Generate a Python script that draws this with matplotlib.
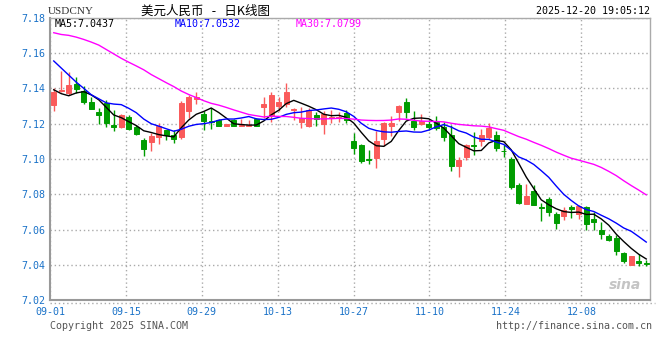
import numpy as np
import pandas as pd
import matplotlib
matplotlib.use('Agg')
import matplotlib.pyplot as plt

# daily candles 2025-09-01 .. 2025-12-19 (USD/CNY)
opens = [7.1304, 7.1383, 7.1374, 7.1425, 7.1383, 7.1323, 7.1266, 7.1317, 7.1192, 7.1181,
         7.1236, 7.1181, 7.1107, 7.1096, 7.1125, 7.1163, 7.1135, 7.1127, 7.1273, 7.1337,
         7.1254, 7.1215, 7.1221, 7.1188, 7.1221, 7.1188, 7.1188, 7.1225, 7.1296, 7.1245,
         7.1302, 7.1309, 7.1277, 7.1211, 7.1189, 7.1249, 7.1198, 7.1230, 7.1234, 7.1258,
         7.1103, 7.1078, 7.1001, 7.1006, 7.1115, 7.1188, 7.1265, 7.1325, 7.1213, 7.1200,
         7.1200, 7.1207, 7.1179, 7.1137, 7.0960, 7.1011, 7.1079, 7.1102, 7.1125, 7.1134,
         7.1047, 7.1002, 7.0851, 7.0747, 7.0817, 7.0726, 7.0775, 7.0688, 7.0678, 7.0730,
         7.0688, 7.0726, 7.0659, 7.0596, 7.0562, 7.0554, 7.0467, 7.0402, 7.0425, 7.0411]
highs = [7.1402, 7.1500, 7.1492, 7.1462, 7.1411, 7.1351, 7.1289, 7.1336, 7.1277, 7.1255,
         7.1247, 7.1194, 7.1119, 7.1147, 7.1202, 7.1167, 7.1162, 7.1327, 7.1362, 7.1381,
         7.1269, 7.1288, 7.1227, 7.1200, 7.1225, 7.1227, 7.1221, 7.1230, 7.1353, 7.1381,
         7.1353, 7.1428, 7.1291, 7.1292, 7.1287, 7.1268, 7.1272, 7.1277, 7.1268, 7.1277,
         7.1147, 7.1085, 7.1053, 7.1156, 7.1207, 7.1241, 7.1306, 7.1344, 7.1269, 7.1254,
         7.1222, 7.1241, 7.1207, 7.1194, 7.1011, 7.1087, 7.1153, 7.1168, 7.1206, 7.1157,
         7.1081, 7.1011, 7.0866, 7.0857, 7.0855, 7.0753, 7.0785, 7.0701, 7.0726, 7.0739,
         7.0739, 7.0733, 7.0701, 7.0644, 7.0577, 7.0568, 7.0472, 7.0453, 7.0463, 7.0429]
lows = [7.1270, 7.1381, 7.1364, 7.1374, 7.1311, 7.1281, 7.1198, 7.1183, 7.1160, 7.1175,
        7.1166, 7.1134, 7.1019, 7.1047, 7.1087, 7.1106, 7.1088, 7.1115, 7.1231, 7.1313,
        7.1163, 7.1169, 7.1185, 7.1186, 7.1185, 7.1187, 7.1187, 7.1187, 7.1230, 7.1211,
        7.1274, 7.1296, 7.1221, 7.1177, 7.1183, 7.1189, 7.1142, 7.1202, 7.1211, 7.1202,
        7.1031, 7.0978, 7.0973, 7.0950, 7.1072, 7.1128, 7.1213, 7.1231, 7.1166, 7.1190,
        7.1166, 7.1166, 7.1100, 7.0931, 7.0898, 7.0992, 7.1021, 7.1074, 7.1115, 7.1045,
        7.1011, 7.0832, 7.0747, 7.0745, 7.0738, 7.0649, 7.0677, 7.0602, 7.0653, 7.0667,
        7.0663, 7.0596, 7.0596, 7.0545, 7.0535, 7.0459, 7.0409, 7.0400, 7.0396, 7.0396]
closes = [7.1379, 7.1389, 7.1419, 7.1398, 7.1323, 7.1285, 7.1251, 7.1206, 7.1181, 7.1247,
          7.1172, 7.1141, 7.1058, 7.1132, 7.1188, 7.1135, 7.1112, 7.1317, 7.1352, 7.1350,
          7.1215, 7.1210, 7.1188, 7.1196, 7.1188, 7.1194, 7.1194, 7.1189, 7.1311, 7.1362,
          7.1325, 7.1381, 7.1281, 7.1230, 7.1277, 7.1226, 7.1253, 7.1240, 7.1240, 7.1221,
          7.1063, 7.0991, 7.0997, 7.1104, 7.1203, 7.1203, 7.1299, 7.1265, 7.1181, 7.1213,
          7.1181, 7.1175, 7.1124, 7.0963, 7.0992, 7.1077, 7.1075, 7.1134, 7.1177, 7.1064,
          7.1043, 7.0841, 7.0751, 7.0789, 7.0741, 7.0723, 7.0700, 7.0638, 7.0710, 7.0716,
          7.0733, 7.0634, 7.0644, 7.0577, 7.0539, 7.0478, 7.0425, 7.0451, 7.0410, 7.0406]

# moving average values shown before a full window of candles is on screen
ma5_head = [7.1392, 7.1370, 7.1358, 7.1374]
ma10_head = [7.1555, 7.1515, 7.1475, 7.1435, 7.1400, 7.1364, 7.1341, 7.1318, 7.1311]
ma30_head = [7.1715, 7.1705, 7.1700, 7.1690, 7.1677, 7.1662, 7.1645, 7.1620, 7.1595, 7.1570,
             7.1548, 7.1527, 7.1505, 7.1478, 7.1455, 7.1432, 7.1410, 7.1385, 7.1365, 7.1348,
             7.1330, 7.1315, 7.1305, 7.1292, 7.1278, 7.1265, 7.1252, 7.1245, 7.1238]
ma_last = ['7.0437', '7.0532', '7.0799']

tick_labels = ['09-01', '09-15', '09-29', '10-13', '10-27', '11-10', '11-24', '12-08']
yticks = [7.02, 7.04, 7.06, 7.08, 7.10, 7.12, 7.14, 7.16, 7.18]

W, H = 660, 360
RED = '#fa5a5a'
GREEN = '#009c00'
BLUE_TXT = '#1a72c8'
MONO = 'DejaVu Sans Mono'


def moving_average(head, n):
    ma = pd.Series(closes).rolling(n).mean().to_numpy()
    ma[:n - 1] = head
    return ma


def fx(x):
    return x / W


def fy(y):
    return 1 - y / H


fig = plt.figure(figsize=(6.6, 3.6), dpi=100)
ax = fig.add_axes([fx(50), fy(300.3), 600 / W, 282.6 / H])

x = np.arange(len(closes))
o = np.array(opens)
c = np.array(closes)
colors = [RED if cc >= oo else GREEN for oo, cc in zip(o, c)]

ax.vlines(x, lows, highs, colors=colors, linewidth=1, zorder=3)
ax.bar(x, np.abs(c - o), bottom=np.minimum(o, c), width=0.72,
       color=colors, edgecolor=colors, linewidth=0.7, zorder=4)

ax.plot(x, moving_average(ma5_head, 5), color='black', lw=1, zorder=5)
ax.plot(x, moving_average(ma10_head, 10), color='#0000ff', lw=1, zorder=5)
ax.plot(x, moving_average(ma30_head, 30), color='#ff00ff', lw=1, zorder=5)

ax.set_xlim(-0.5, len(closes) - 0.5)
ax.set_ylim(7.02, 7.18)

# date grid drifts slightly against the candles in the original
xt = np.arange(len(tick_labels)) * 10.12 - 0.5
ax.set_xticks(xt)
ax.set_xticklabels(tick_labels)
ax.set_yticks(yticks)
ax.set_yticklabels(['%.2f' % v for v in yticks])
ax.tick_params(length=0, colors=BLUE_TXT, labelsize=7.2, pad=3)
ax.tick_params(axis='x', pad=5)
for lab in ax.get_xticklabels() + ax.get_yticklabels():
    lab.set_fontfamily(MONO)
ax.grid(True, color='#aaaaaa', linestyle=(0, (1, 2)), linewidth=1)

for side in ['left', 'bottom']:
    ax.spines[side].set_color('#999999')
    ax.spines[side].set_linewidth(1.5)
for side in ['right', 'top']:
    ax.spines[side].set_color('#aaaaaa')
    ax.spines[side].set_linewidth(1)

# dotted rule under the axis
fig.add_artist(plt.Line2D([fx(50), fx(655)], [fy(303), fy(303)], color='#aaaaaa',
                          linestyle=(0, (1, 2)), linewidth=1))

# header
fig.text(fx(48), fy(12), 'USDCNY', fontsize=8, family='Liberation Serif',
         color='#333333', va='center', ha='left')
fig.text(fx(141), fy(11), '美元人民币   -   日K线图', fontsize=9,
         family=['Noto Sans CJK SC', 'DejaVu Sans'], color='black', va='center', ha='left')
fig.text(fx(650), fy(11), '2025-12-20 19:05:12', fontsize=7.2, family=MONO,
         color='black', va='center', ha='right')

fig.text(fx(55), fy(24), 'MA5:' + ma_last[0], fontsize=7.2, family=MONO, color='black', va='center')
fig.text(fx(175), fy(24), 'MA10:' + ma_last[1], fontsize=7.2, family=MONO, color='#0000ff', va='center')
fig.text(fx(296), fy(24), 'MA30:' + ma_last[2], fontsize=7.2, family=MONO, color='#ff00ff', va='center')

# watermark
ax.text(0.985, 0.03, 'sina', transform=ax.transAxes, fontsize=10, fontweight='bold',
        style='italic', color='#c4c4c4', ha='right', va='bottom', zorder=1)

# footer
fig.text(fx(50), fy(326), 'Copyright 2025 SINA.COM', fontsize=7.2, family=MONO,
         color='#555555', va='center', ha='left')
fig.text(fx(652), fy(326), 'http://finance.sina.com.cn', fontsize=7.2, family=MONO,
         color='#555555', va='center', ha='right')

fig.savefig('out.png', dpi=100)
